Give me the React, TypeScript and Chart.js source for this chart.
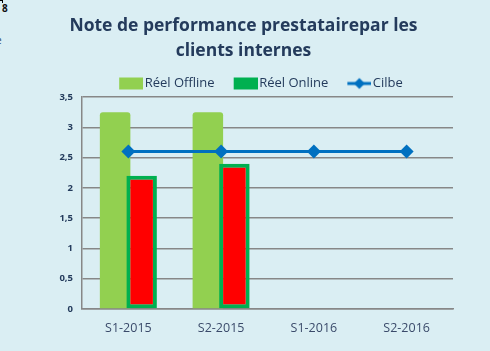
import React, { useEffect, useRef } from 'react';
import { Chart, registerables } from 'chart.js';

Chart.register(...registerables);

// ---- data ----
const categories = ['S1-2015', 'S2-2015', 'S1-2016', 'S2-2016'];
const reelOffline: (number | null)[] = [3.25, 3.25, null, null];
const reelOnline: (number | null)[] = [2.2, 2.4, null, null];
const cilbe: number[] = [2.6, 2.6, 2.6, 2.6];
const seriesLabels = ['Réel Offline', 'Réel Online', 'Cilbe'];
const titleLines = ['Note de performance prestatairepar les', 'clients internes'];
const yMin = 0;
const yMax = 3.5;
const yStep = 0.5;

// ---- styles / layout ----
const BG = '#DAEEF3';
const C_OFF = '#92D050';
const C_ON_FILL = '#FF0000';
const C_ON_BORDER = '#00B050';
const C_LINE = '#0070C0';
const TXT = '#243B5C';
const XTXT = '#3A4A6A';
const GRID = '#878787';
const FONT = '"Open Sans", Lato, sans-serif';
const LEGEND_FS = 13;
const PSW = 30; // legend pointStyleWidth
const GROUP_SHIFT = 0.143; // half distance between the two bars of a group, in category units
const LEGEND_DX = 12;
const LEGEND_DY = 3;

function legendIcon(kind: 'box' | 'line', color: string): HTMLCanvasElement {
  const W = PSW + 10; // content ends ~1px before the text
  const H = 14;
  const c = document.createElement('canvas');
  c.width = W;
  c.height = H;
  const g = c.getContext('2d')!;
  const x0 = c.width - 24;
  if (kind === 'box') {
    g.fillStyle = color;
    g.fillRect(x0, 1, 24, 12);
  } else {
    g.strokeStyle = color;
    g.lineWidth = 3;
    g.beginPath();
    g.moveTo(x0, 7);
    g.lineTo(c.width, 7);
    g.stroke();
    g.fillStyle = color;
    const cx = x0 + 12;
    const r = 5.5;
    g.beginPath();
    g.moveTo(cx - r, 7);
    g.lineTo(cx, 7 - r);
    g.lineTo(cx + r, 7);
    g.lineTo(cx, 7 + r);
    g.closePath();
    g.fill();
  }
  return c;
}

const legendNudge = {
  id: 'legendNudge',
  afterLayout(c: any) {
    const l = c.legend;
    if (!l) return;
    l.left += LEGEND_DX;
    l.right += LEGEND_DX;
    l.top += LEGEND_DY;
    l.bottom += LEGEND_DY;
  },
};

export default function App() {
  const ref = useRef<HTMLCanvasElement | null>(null);

  useEffect(() => {
    if (!ref.current) return;
    const icons: Record<number, HTMLCanvasElement> = {
      0: legendIcon('box', C_OFF),
      1: legendIcon('box', C_ON_BORDER),
      2: legendIcon('line', C_LINE),
    };
    const offlinePts = reelOffline.map((v, i) => ({ x: i - GROUP_SHIFT, y: v }));
    const onlinePts = reelOnline.map((v, i) => ({ x: i + GROUP_SHIFT, y: v }));
    const chart = new Chart(ref.current, {
      type: 'bar',
      data: {
        labels: categories,
        datasets: [
          {
            type: 'bar',
            label: seriesLabels[0],
            data: offlinePts,
            backgroundColor: C_OFF,
            borderWidth: 0,
            borderRadius: { topLeft: 3, topRight: 3, bottomLeft: 0, bottomRight: 0 },
            borderSkipped: false,
            xAxisID: 'xb',
            grouped: false,
            order: 2,
          },
          {
            type: 'bar',
            label: seriesLabels[1],
            data: onlinePts,
            backgroundColor: C_ON_FILL,
            borderColor: C_ON_BORDER,
            borderWidth: 4,
            borderSkipped: false,
            xAxisID: 'xb',
            grouped: false,
            order: 1,
          },
          {
            type: 'line',
            label: seriesLabels[2],
            data: cilbe,
            borderColor: C_LINE,
            backgroundColor: C_LINE,
            borderWidth: 3,
            pointStyle: 'rectRot',
            pointRadius: 7,
            pointBorderWidth: 0,
            pointBackgroundColor: C_LINE,
            xAxisID: 'x',
            order: 0,
          },
        ] as any,
      },
      plugins: [legendNudge],
      options: {
        responsive: false,
        animation: false,
        devicePixelRatio: 1,
        datasets: {
          bar: { categoryPercentage: 1, barPercentage: 1.15 },
        },
        layout: { padding: { left: 34, right: 37, top: 0, bottom: 3 } },
        plugins: {
          tooltip: { enabled: false },
          title: {
            display: true,
            text: titleLines,
            color: TXT,
            font: { family: FONT, size: 17.5, weight: 'bold', lineHeight: 25 / 17.5 },
            padding: { top: 14, bottom: 2 },
          },
          legend: {
            display: true,
            position: 'top',
            labels: {
              usePointStyle: true,
              pointStyleWidth: PSW,
              boxHeight: 12,
              padding: 8,
              color: TXT,
              font: { family: FONT, size: LEGEND_FS },
              generateLabels: (ch: any) => {
                const items = Chart.defaults.plugins.legend.labels.generateLabels(ch);
                return items
                  .sort((a: any, b: any) => a.datasetIndex - b.datasetIndex)
                  .map((it: any) => ({ ...it, pointStyle: icons[it.datasetIndex] }));
              },
              sort: (a: any, b: any) => a.datasetIndex - b.datasetIndex,
            },
          },
        },
        scales: {
          x: {
            type: 'category',
            offset: true,
            grid: { display: false, drawTicks: false, tickLength: 0 },
            border: { display: true, color: GRID, width: 1.5 },
            ticks: { color: XTXT, font: { family: FONT, size: 12.5 }, padding: 12, maxRotation: 0 },
          },
          xb: {
            type: 'linear',
            display: false,
            min: -0.5,
            max: categories.length - 0.5,
            offset: false,
            ticks: { stepSize: 1 },
          },
          y: {
            min: yMin,
            max: yMax,
            beginAtZero: true,
            grid: { color: GRID, lineWidth: 1.5, drawTicks: false, tickLength: 0 },
            border: { display: true, color: GRID, width: 1.5 },
            ticks: {
              stepSize: yStep,
              padding: 9,
              color: TXT,
              font: { family: FONT, size: 9.5, weight: 'bold' },
              callback: (v: any) => String(v).replace('.', ','),
            },
            afterFit: (s: any) => {
              s.width = 48;
            },
          },
        } as any,
      },
    });
    return () => chart.destroy();
  }, []);

  return (
    <div
      style={{
        position: 'fixed',
        left: 0,
        top: 0,
        width: 490,
        height: 351,
        background: BG,
        overflow: 'hidden',
      }}
    >
      <div
        style={{
          position: 'absolute',
          left: 0,
          top: 0,
          width: 2,
          height: 2,
          borderTop: '1px solid #000',
          borderRight: '1px solid #000',
        }}
      />
      <div
        style={{
          position: 'absolute',
          left: 2,
          top: 3,
          fontFamily: FONT,
          fontWeight: 'bold',
          fontSize: 10,
          lineHeight: '11px',
          color: '#111',
        }}
      >
        8
      </div>
      <div
        style={{
          position: 'absolute',
          left: -4,
          top: 35,
          fontFamily: FONT,
          fontSize: 10,
          lineHeight: '11px',
          color: TXT,
        }}
      >
        e
      </div>
      <canvas ref={ref} width={490} height={351} style={{ display: 'block', position: 'absolute', left: 0, top: 0 }} />
    </div>
  );
}
